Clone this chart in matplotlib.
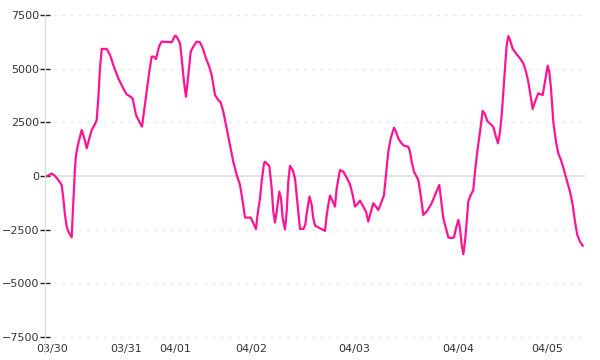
import matplotlib
matplotlib.use("Agg")
import matplotlib.pyplot as plt

# sample positions along the time axis (arbitrary units) and values
t = [47.3, 51.7, 55, 58.3, 61.7, 63.3, 65, 66.7, 68.3, 71.7, 72.7, 75, 76, 78.3, 81.7,
     84.3, 86.7, 89.3, 91.7, 95, 96.7, 98.3, 100, 101.7, 106.7, 110, 113.3, 118.3, 123.3,
     126.7, 130.7, 132.7, 136, 139.3, 142, 144, 146.7, 149.3, 151.7, 154, 156, 159.3, 161.7,
     171.7, 175, 176.7, 180, 181.7, 183.3, 185, 186, 187.3, 189.3, 190.7, 193.3, 196.7, 200,
     202.7, 206, 209.3, 211.7, 215, 218.3, 220.7, 223.3, 226.7, 230, 233.3, 236.7, 240,
     242.7, 245, 250.7, 253.3, 256, 257.3, 260, 261.7, 264, 265, 269.3, 271.7, 273.3, 275,
     276.7, 279.3, 281, 282.7, 285, 286.7, 288.3, 290, 292.7, 295, 297.3, 300, 303.3, 305.3,
     306.7, 309.5, 311.7, 313.3, 315, 320, 325, 326.7, 328.3, 330, 332.7, 335, 336.7, 340,
     343.3, 346.7, 350, 352.7, 355, 356.7, 360, 363.3, 366, 368.3, 370, 373.3, 376, 378.3,
     381.7, 384, 386, 388.3, 390.7, 394, 396, 398.3, 401, 404, 408.3, 410, 411.7, 414, 418.3,
     420.7, 423.3, 426.7, 431.7, 435, 439.3, 441.7, 443.3, 446, 448.3, 451.7, 454, 456, 458.3,
     460, 461.7, 463.3, 465, 466.7, 468.3, 470.7, 473.3, 475, 477.3, 480, 482.7, 485, 487.3,
     490, 493.3, 496, 498, 500, 501.7, 503.3, 505, 506.7, 508.3, 510, 512.7, 516.7, 520,
     523.3, 526, 528.3, 530.7, 532.7, 535, 538.3, 542.7, 545, 547.7, 549.3, 551, 553.3, 556,
     558.3, 561, 564, 566.7, 570, 572.7, 575, 577.3, 580, 582.7]
values = [0, 110, 0, -190, -420, -1040, -1820, -2360, -2590, -2860, -1820, 360, 980, 1520, 2140,
          1750, 1290, 1750, 2140, 2420, 2610, 3620, 5020, 5920, 5920, 5640, 5170, 4550, 4080,
          3800, 3690, 3590, 2840, 2530, 2300, 3000, 3930, 4860, 5560, 5560, 5450, 6070, 6260,
          6230, 6540, 6490, 6180, 5480, 4700, 4000, 3690, 4240, 5170, 5790, 6030, 6260, 6230,
          5950, 5480, 5090, 4700, 3770, 3540, 3430, 3000, 2220, 1440, 660, 50, -420,
          -1190, -1940, -1940, -2200, -2470, -1890, -1040, -260, 590, 660, 470, -580, -1660, -2170,
          -1660, -730, -1040, -1970, -2490, -1660, -260, 470, 280, -110, -1190, -2470, -2470, -2280,
          -1740, -960, -1350, -1970, -2310, -2440, -2560, -1820, -1350, -910, -1190, -1430, -580, 280,
          200, -80, -390, -890, -1430, -1350, -1150, -1430, -1660, -2130, -1820, -1270, -1430, -1590,
          -1190, -890, 50, 1130, 1750, 2250, 2060, 1750, 1550, 1410, 1360, 1130, 660, 200, -190,
          -890, -1820, -1660, -1270, -890, -420, -1350, -1970, -2440, -2860, -2900, -2860, -2440, -2050,
          -2440, -3210, -3650, -3060, -2130, -1190, -890, -660, 200, 1130, 2060, 3030, 2870, 2560,
          2440, 2290, 1820, 1520, 2060, 2840, 3930, 5020, 6100, 6520, 6340, 5920, 5670, 5480,
          5250, 4860, 4390, 3690, 3120, 3460, 3850, 3770, 4390, 5140, 4860, 4080, 2530, 1590,
          1050, 740, 280, -190, -730, -1350, -2130, -2750, -3060, -3250]

x_tick_pos = [52, 126, 175, 251, 354, 458, 547]
x_tick_labels = ["03/30", "03/31", "04/01", "04/02", "04/03", "04/04", "04/05"]
y_ticks = [-7500, -5000, -2500, 0, 2500, 5000, 7500]

fig = plt.figure(figsize=(6, 3.6), dpi=100)
ax = fig.add_axes([45/600, 7/360, 540/600, (353-15)/360])

# grid
for yv in y_ticks:
    if yv == 0:
        ax.axhline(0, color="#dddddd", lw=1.2, zorder=1)
    else:
        ax.axhline(yv, color="#e8e8e8", lw=1, ls=(0, (2, 4)), zorder=1)

ax.plot(t, values, color="#ff1493", lw=1.6, zorder=3)

ax.set_xlim(45, 585)
ax.set_ylim(-8250, 7500)

for s in ["top", "right", "bottom"]:
    ax.spines[s].set_visible(False)
ax.spines["left"].set_color("#dddddd")
ax.spines["left"].set_linewidth(1)

ax.set_yticks(y_ticks)
ax.set_yticklabels([f"{v}".replace("-", "\u2212") for v in y_ticks])
ax.tick_params(axis="y", direction="inout", length=6.5, width=1, color="#222222",
               pad=1, labelsize=8, labelcolor="#333333")

ax.set_xticks(x_tick_pos)
ax.set_xticklabels(x_tick_labels)
ax.tick_params(axis="x", length=0, pad=-6.8, labelsize=8, labelcolor="#333333")

fig.savefig("out.png", dpi=100)
